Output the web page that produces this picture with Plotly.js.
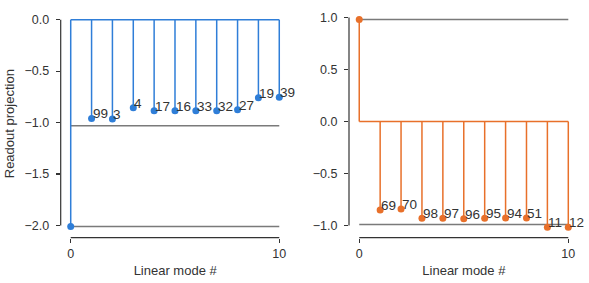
<!DOCTYPE html>
<html>
<head>
<meta charset="utf-8">
<script src="https://cdn.plot.ly/plotly-3.0.1.min.js"></script>
<style>html,body{margin:0;padding:0;background:#fff;}#chart{width:589px;height:283px;}</style>
</head>
<body>
<div id="chart"></div>
<script>
// ---- data ----
const modes = [0,1,2,3,4,5,6,7,8,9,10];
const leftValues = [-2.01,-0.96,-0.965,-0.855,-0.885,-0.885,-0.885,-0.885,-0.875,-0.758,-0.755];
const leftLabels = ["","99","3","4","17","16","33","32","27","19","39"];
const leftRefLevels = [-1.03,-2.01];
const rightValues = [0.98,-0.85,-0.84,-0.93,-0.93,-0.935,-0.93,-0.928,-0.928,-1.017,-1.017];
const rightLabels = ["","69","70","98","97","96","95","94","51","11","12"];
const rightRefLevels = [0.98,-0.99];
const leftTicks = [-2,-1.5,-1,-0.5,0];
const rightTicks = [-1,-0.5,0,0.5,1];
const xTicks = [0,10];

const BLUE = "#2f7ed8", ORANGE = "#e8702a", GRAY = "#7a7a7a", AX = "#333333";
const FONT = "Liberation Sans, Arial, sans-serif";

function stems(xs, ys){
  const sx=[], sy=[];
  xs.forEach((x,i)=>{ sx.push(x,x,null); sy.push(0,ys[i],null); });
  return {sx, sy};
}

function panelTraces(vals, refs, color, xa, ya){
  const tr=[];
  const xmin=Math.min(...modes), xmax=Math.max(...modes);
  refs.forEach(r=>tr.push({type:"scatter",mode:"lines",x:[xmin,xmax],y:[r,r],xaxis:xa,yaxis:ya,
    line:{color:GRAY,width:1.5},hoverinfo:"skip",showlegend:false}));
  const s=stems(modes, vals);
  tr.push({type:"scatter",mode:"lines",x:s.sx,y:s.sy,xaxis:xa,yaxis:ya,line:{color:color,width:1.5},showlegend:false,hoverinfo:"skip"});
  tr.push({type:"scatter",mode:"lines",x:[xmin,xmax],y:[0,0],xaxis:xa,yaxis:ya,line:{color:color,width:1.5},showlegend:false,hoverinfo:"skip"});
  tr.push({type:"scatter",mode:"markers",x:modes,y:vals,xaxis:xa,yaxis:ya,marker:{color:color,size:7},showlegend:false});
  return tr;
}

const data = [].concat(
  panelTraces(leftValues, leftRefLevels, BLUE, "x", "y"),
  panelTraces(rightValues, rightRefLevels, ORANGE, "x2", "y2")
);

function labelAnns(vals, labels, xa, ya){
  const a=[];
  modes.forEach((m,i)=>{
    if(!labels[i]) return;
    a.push({x:m,y:vals[i],xref:xa,yref:ya,text:labels[i],showarrow:false,xanchor:"left",yanchor:"bottom",
      xshift:0,yshift:-4,borderpad:0,font:{family:FONT,size:13.5,color:"#333"}});
  });
  return a;
}

const yDom=[0.16007,0.96583];
const common = {
  showgrid:false, zeroline:false, showline:false, ticks:"outside", ticklen:4, tickwidth:1.2, tickcolor:AX,
  tickfont:{family:FONT,size:12.5,color:"#333"}
};

const layout = {
  width:589, height:283, margin:{l:0,r:0,t:0,b:0}, paper_bgcolor:"#fff", plot_bgcolor:"rgba(0,0,0,0)",
  showlegend:false,
  xaxis: Object.assign({}, common, {domain:[0.10306,0.49185], range:[-0.48,10.5], tickvals:xTicks, anchor:"y",
    title:{text:"Linear mode #", font:{family:FONT,size:13,color:"#333"}, standoff:6}}),
  yaxis: Object.assign({}, common, {domain:yDom, range:[-2.119,0.097], tickvals:leftTicks, tickformat:".1f", anchor:"x",
    ticklabelstandoff:4,
    title:{text:"Readout projection", font:{family:FONT,size:13,color:"#333"}, standoff:6}}),
  xaxis2: Object.assign({}, common, {domain:[0.59253,0.98260], range:[-0.49,10.5], tickvals:xTicks, anchor:"y2",
    title:{text:"Linear mode #", font:{family:FONT,size:13,color:"#333"}, standoff:6}}),
  yaxis2: Object.assign({}, common, {domain:yDom, range:[-1.117,1.075], tickvals:rightTicks, tickformat:".1f", anchor:"x2",
    ticklabelstandoff:4}),
  shapes: [
    {type:"line",xref:"x",yref:"y domain",x0:0,x1:10,y0:0,y1:0,line:{color:AX,width:1.2}},
    {type:"line",xref:"x domain",yref:"y",x0:0,x1:0,y0:-2,y1:0,line:{color:AX,width:1.2}},
    {type:"line",xref:"x2",yref:"y2 domain",x0:0,x1:10,y0:0,y1:0,line:{color:AX,width:1.2}},
    {type:"line",xref:"x2 domain",yref:"y2",x0:0,x1:0,y0:-1,y1:1,line:{color:AX,width:1.2}}
  ],
  annotations: [].concat(labelAnns(leftValues,leftLabels,"x","y"), labelAnns(rightValues,rightLabels,"x2","y2"))
};

Plotly.newPlot("chart", data, layout, {staticPlot:true, displayModeBar:false});
</script>
</body>
</html>
